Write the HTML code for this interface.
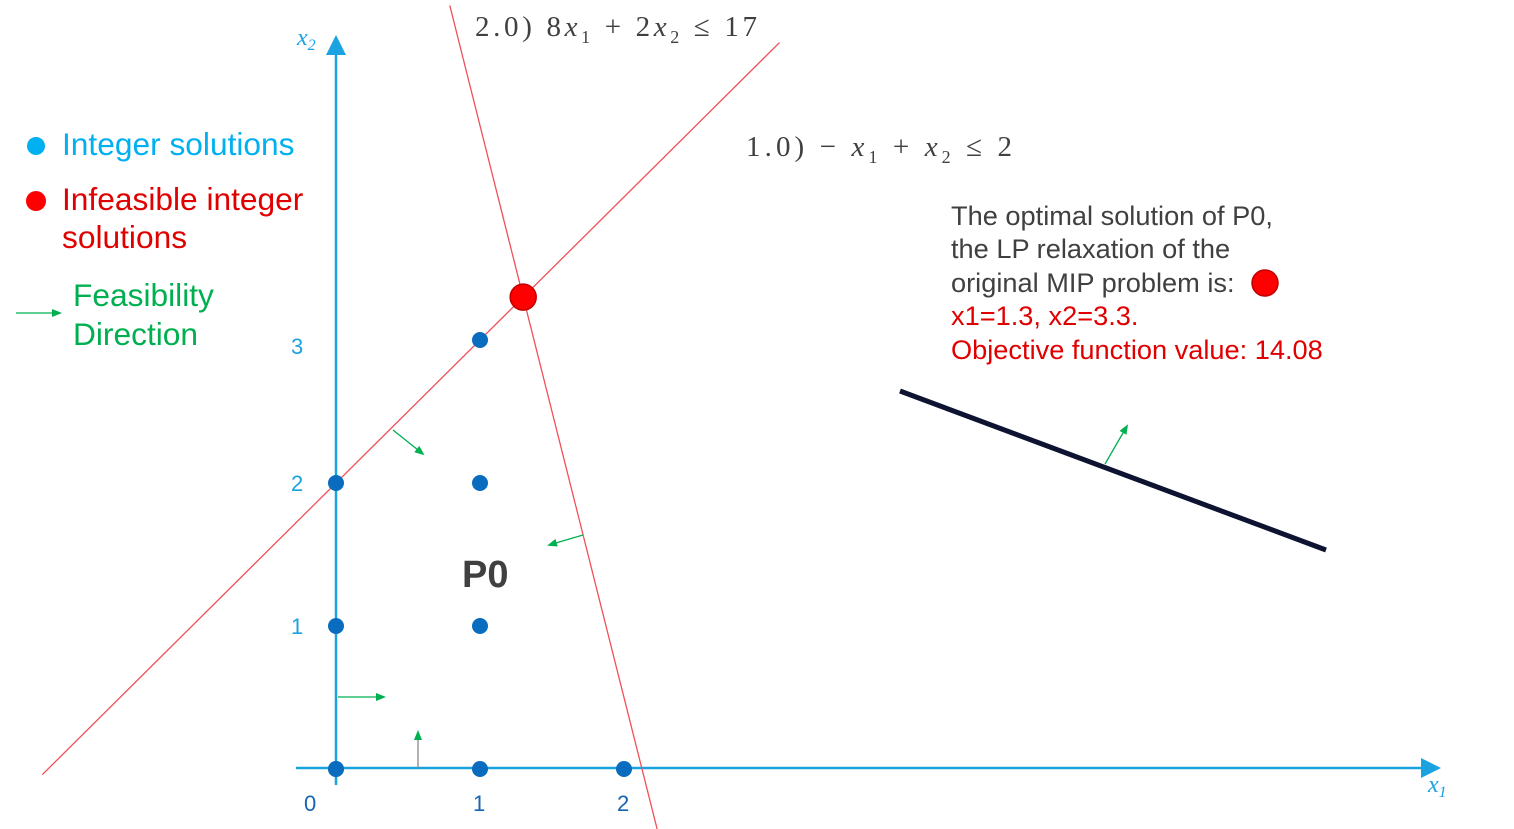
<!DOCTYPE html>
<html><head><meta charset="utf-8"><style>
body{margin:0;background:#fff;width:1514px;height:829px;overflow:hidden;font-family:"Liberation Sans",sans-serif}
svg{position:absolute;left:0;top:0}
</style></head><body>
<svg id="c" width="1514" height="829">
<defs>
<marker id="ab" markerWidth="8" markerHeight="8" refX="6" refY="4" orient="auto"><path d="M0,0 L8,4 L0,8 z" fill="#1aa3e0"/></marker>
<marker id="ag" markerWidth="10" markerHeight="8" refX="8" refY="4" orient="auto" markerUnits="userSpaceOnUse"><path d="M0,0 L10,4 L0,8 z" fill="#00b050"/></marker>
</defs>
<line x1="296" y1="768" x2="1436" y2="768" stroke="#1aa3e0" stroke-width="2.5" marker-end="url(#ab)"/>
<line x1="336" y1="785" x2="336" y2="40" stroke="#1aa3e0" stroke-width="2.5" marker-end="url(#ab)"/>
<text x="1428" y="792" font-family="Liberation Serif" font-style="italic" font-size="24" fill="#1aa3e0">x<tspan font-size="16" dy="5">1</tspan></text>
<text x="297" y="45" font-family="Liberation Serif" font-style="italic" font-size="24" fill="#1aa3e0">x<tspan font-size="16" dy="5">2</tspan></text>
<g id="ticks"></g>
<g id="lines"></g>
<g id="pts"></g>
<g stroke="#00b050" stroke-width="1.3">
<line x1="338" y1="697" x2="384" y2="697" marker-end="url(#ag)"/>
<line x1="418" y1="768" x2="418" y2="732" stroke="#888" marker-end="url(#ag)"/>
<line x1="393" y1="430" x2="423" y2="454" marker-end="url(#ag)"/>
<line x1="583" y1="535" x2="549" y2="545" marker-end="url(#ag)"/>
<line x1="1105" y1="464" x2="1127" y2="426" marker-end="url(#ag)"/>
</g>
<line x1="900" y1="391" x2="1326" y2="550" stroke="#0d1330" stroke-width="5"/>
<text x="462" y="587" font-size="38" font-weight="bold" fill="#404040">P0</text>
<text x="475" y="36" font-family="Liberation Serif" font-size="29" fill="#404040" textLength="282" lengthAdjust="spacing">2.0)  8<tspan font-style="italic">x</tspan><tspan font-size="18" dy="7">1</tspan><tspan dy="-7"> + 2</tspan><tspan font-style="italic">x</tspan><tspan font-size="18" dy="7">2</tspan><tspan dy="-7"> ≤ 17</tspan></text>
<text x="746" y="156" font-family="Liberation Serif" font-size="29" fill="#404040" textLength="266" lengthAdjust="spacing">1.0)  − <tspan font-style="italic">x</tspan><tspan font-size="18" dy="7">1</tspan><tspan dy="-7"> + </tspan><tspan font-style="italic">x</tspan><tspan font-size="18" dy="7">2</tspan><tspan dy="-7"> ≤ 2</tspan></text>
<g font-size="31.7">
<circle cx="36" cy="146" r="9" fill="#00b0f0"/><text x="62" y="155" fill="#00b0f0">Integer solutions</text>
<circle cx="36" cy="201" r="10" fill="#ff0000"/><text x="62" y="210" fill="#e00000">Infeasible integer</text><text x="62" y="248" fill="#e00000">solutions</text>
<line x1="16" y1="313" x2="60" y2="313" stroke="#00b050" stroke-width="1.3" marker-end="url(#ag)"/>
<text x="73" y="306" fill="#00b050">Feasibility</text><text x="73" y="345" fill="#00b050">Direction</text>
</g>
<g font-size="27.2">
<text x="951" y="225" fill="#404040">The optimal solution of P0,</text>
<text x="951" y="258" fill="#404040">the LP relaxation of the</text>
<text x="951" y="292" fill="#404040">original MIP problem is:</text>
<circle cx="1265" cy="283" r="13" fill="#ff0000" stroke="#c00000" stroke-width="1.5"/>
<text x="951" y="325" fill="#e00000">x1=1.3, x2=3.3.</text>
<text x="951" y="359" fill="#e00000">Objective function value: 14.08</text>
</g>
</svg>
<script>
const xTicks=[0,1,2];
const yTicks=[1,2,3];
const intX=[0,0,0,1,1,1,1,0,2];
const intY=[0,1,2,0,1,2,3,0,0];
const relaxX=[1.3];
const relaxY=[3.3];
const consA=[-1,8];
const consB=[1,2];
const consC=[2,17];
const NS='http://www.w3.org/2000/svg';
const X=v=>336+v*144, Y=v=>769-v*143;
function mk(t,a,p){const e=document.createElementNS(NS,t);for(const k in a)e.setAttribute(k,a[k]);p.appendChild(e);return e;}
const tg=document.getElementById('ticks');
xTicks.forEach(v=>{const t=mk('text',{x:X(v)-(v==0?32:7),y:811,'font-size':22,fill:'#1565b0'},tg);t.textContent=v;

});
yTicks.forEach(v=>{const t=mk('text',{x:291,y:Y(v)+(v==3?14:8),'font-size':22,fill:'#1aa3e0'},tg);t.textContent=v;

});
const lg=document.getElementById('lines');
consA.forEach((a,i)=>{const b=consB[i],c=consC[i];let p1,p2;
if(a<0){const x1=-2.04,x2=3.08;p1=[x1,(c-a*x1)/b];p2=[x2,(c-a*x2)/b];}
else{const y1=5.34,y2=-0.42;p1=[(c-b*y1)/a,y1];p2=[(c-b*y2)/a,y2];}
const l=mk('line',{x1:X(p1[0]),y1:Y(p1[1]),x2:X(p2[0]),y2:Y(p2[1]),stroke:'#f0505a','stroke-width':1.3},lg);

});
const pg=document.getElementById('pts');
intX.forEach((x,i)=>{const c=mk('circle',{cx:X(x),cy:Y(intY[i]),r:8,fill:'#0a6cbf'},pg);

});
relaxX.forEach((x,i)=>{const c=mk('circle',{cx:X(x),cy:Y(relaxY[i]),r:13,fill:'#ff0000',stroke:'#c00000','stroke-width':1.5},pg);

});
</script>
</body></html>
